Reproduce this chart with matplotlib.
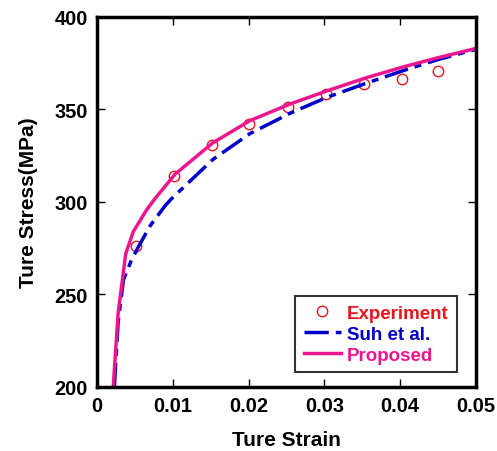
import numpy as np
import matplotlib
matplotlib.use('Agg')
import matplotlib.pyplot as plt

# experimental points
exp_x = [0.0052, 0.0102, 0.0152, 0.0200, 0.0252, 0.0302, 0.0352, 0.0402, 0.0450]
exp_y = [276, 314, 331, 342, 351.5, 358.5, 364, 366.5, 371]

# Suh et al. model
suh_x = [0.0023, 0.0028, 0.0035, 0.0045, 0.0055, 0.0070, 0.0090, 0.0099, 0.0153,
         0.0202, 0.0255, 0.0303, 0.0354, 0.0404, 0.0450, 0.0500]
suh_y = [200, 235, 258, 268, 276, 287, 298, 302, 323,
         337, 348, 356.5, 364, 371, 377, 382.5]

# proposed model
prop_x = [0.00215, 0.0028, 0.0038, 0.0048, 0.0066, 0.0077, 0.0103, 0.0153,
          0.0202, 0.0255, 0.0303, 0.0354, 0.0404, 0.0450, 0.0500]
prop_y = [200, 240, 272, 284, 296, 302, 315, 332,
          344, 353, 360, 367, 373, 378, 383]

plt.rcParams['font.family'] = ['Liberation Sans', 'DejaVu Sans']
plt.rcParams['font.weight'] = 'bold'

red = '#E8161B'
blue = '#0000CC'
pink = '#EE1690'

fig = plt.figure(figsize=(4.97, 4.52), dpi=100)
ax = fig.add_axes([0.195, 0.1416, 0.7626, 0.8186])

ax.plot(exp_x, exp_y, 'o', mfc='none', mec=red, ms=7.5, mew=1.0, label='Experiment')
ax.plot(suh_x, suh_y, color=blue, lw=2.5, dashes=(7, 2, 2, 2), label='Suh et al.')
ax.plot(prop_x, prop_y, color=pink, lw=2.5, label='Proposed')

ax.set_xlim(0, 0.05)
ax.set_ylim(200, 400)
ax.set_xticks([0, 0.01, 0.02, 0.03, 0.04, 0.05])
ax.set_xticklabels(['0', '0.01', '0.02', '0.03', '0.04', '0.05'])
ax.set_yticks([200, 250, 300, 350, 400])
ax.tick_params(direction='in', length=6, width=1, labelsize=14.4, top=True, right=True, pad=6.5)
for s in ax.spines.values():
    s.set_linewidth(2.5)

ax.set_xlabel('Ture Strain', fontsize=15, fontweight='bold', labelpad=11)
ax.set_ylabel('Ture Stress(MPa)', fontsize=15, fontweight='bold', labelpad=12)

leg = ax.legend(loc='lower right', bbox_to_anchor=(0.95, 0.0405), borderaxespad=0,
                fontsize=13.5, frameon=True, fancybox=False, edgecolor='black',
                handlelength=2.0, handletextpad=0.3, borderpad=0.45, labelspacing=0.2)
leg.get_frame().set_linewidth(1.5)
for t, c in zip(leg.get_texts(), [red, blue, pink]):
    t.set_color(c)

plt.savefig('out.png', dpi=100)
